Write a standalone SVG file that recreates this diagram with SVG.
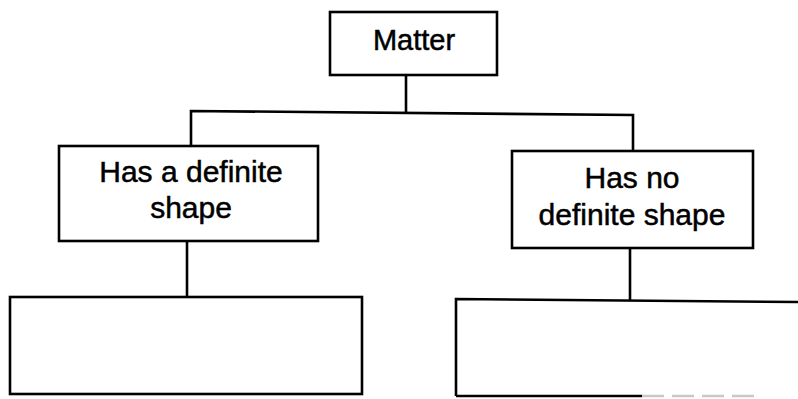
<svg xmlns="http://www.w3.org/2000/svg" width="798" height="399" viewBox="0 0 798 399">
  <style>
    .box { fill: #ffffff; stroke: #000000; stroke-width: 2.6; }
    .wire { fill: none; stroke: #000000; stroke-width: 2.6; }
    .label { font-family: "Liberation Sans", Arial, sans-serif; font-size: 30px; fill: #000000; stroke: #000000; stroke-width: 0.5; text-anchor: middle; }
  </style>
  <rect width="798" height="399" fill="#ffffff"/>

  <!-- connectors -->
  <g id="connectors">
    <path class="wire" d="M406,75 V112"/>
    <path class="wire" d="M191,146 V111 L633,115 V151"/>
    <path class="wire" d="M187,241 V297"/>
    <path class="wire" d="M630,248 V300"/>
  </g>

  <g id="matter">
    <rect class="box" x="330" y="12" width="167" height="63"/>
    <text class="label" x="414" y="50" style="font-size:29px">Matter</text>
  </g>

  <g id="definite-shape">
    <rect class="box" x="59" y="146" width="259" height="95"/>
    <text class="label" x="191" y="182">Has a definite</text>
    <text class="label" x="191" y="218">shape</text>
  </g>

  <g id="no-definite-shape">
    <rect class="box" x="512" y="151" width="241" height="97"/>
    <text class="label" x="632" y="188">Has no</text>
    <text class="label" x="632" y="225">definite shape</text>
  </g>

  <g id="answer-left">
    <rect class="box" x="10" y="297" width="352" height="97"/>
  </g>

  <g id="answer-right">
    <path class="wire" d="M456,396 V299 L798,302"/>
    <path class="wire" d="M456,396 H642"/>
    <path d="M642,396 H760" fill="none" stroke="#c8c8c8" stroke-width="2.6" stroke-dasharray="22 8"/>
  </g>
</svg>
